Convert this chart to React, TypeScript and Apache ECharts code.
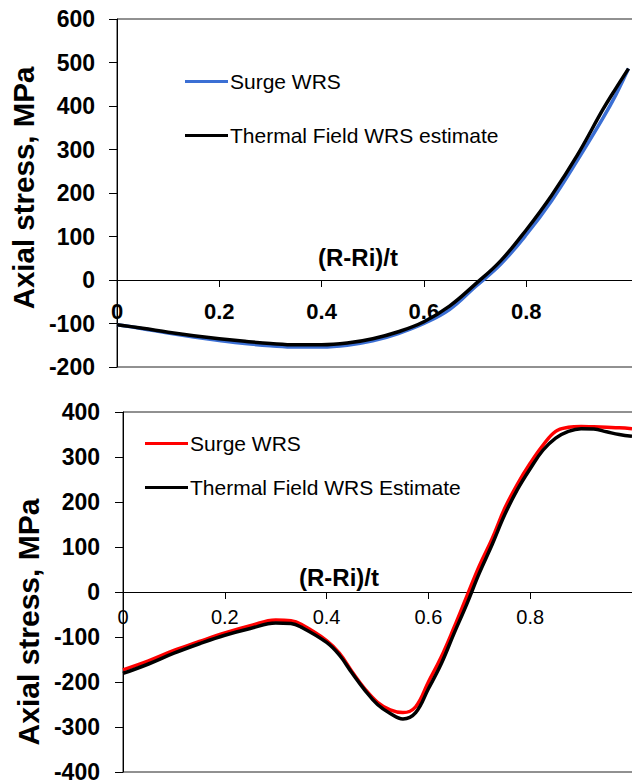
import React, { useEffect, useRef } from "react";
import * as echarts from "echarts";

const FONT = '"Liberation Sans", Arial, Helvetica, sans-serif';

// ---------- Top chart data ----------
const topX = [0, 0.05, 0.1, 0.15, 0.2, 0.25, 0.3, 0.35, 0.4, 0.45, 0.5, 0.55, 0.6, 0.65, 0.7, 0.75, 0.8, 0.85, 0.9, 0.95, 0.975, 1.0];
const topSurge = [-103, -112, -122, -131, -139, -146, -151, -154, -154, -150, -140, -123, -100, -68, -16, 36, 104, 183, 275, 372, 425, 486];
const topThermal = [-103, -111, -120, -128, -135, -141, -146, -149, -149, -145, -135, -119, -96, -60, -10, 44, 115, 195, 287, 392, 440, 486];
const topSeriesNames = ["Surge WRS", "Thermal Field WRS estimate"];

// ---------- Bottom chart data ----------
const botX = [0, 0.05, 0.1, 0.15, 0.2, 0.25, 0.3, 0.33, 0.35, 0.4, 0.425, 0.45, 0.475, 0.5, 0.525, 0.55, 0.575, 0.6, 0.625, 0.65, 0.675, 0.7, 0.725, 0.75, 0.775, 0.8, 0.825, 0.85, 0.875, 0.9, 0.925, 0.95, 0.975, 1.0];
const botSurge = [-173, -153, -130, -110, -91, -75, -62, -64, -72, -108, -136, -177, -215, -245, -262, -268, -255, -200, -145, -80, -11, 58, 118, 186, 240, 286, 326, 357, 366, 368, 367, 366, 365, 363];
const botThermal = [-181, -160, -136, -115, -96, -81, -69, -70, -78, -112, -140, -180, -218, -250, -270, -282, -268, -215, -160, -93, -28, 42, 105, 172, 228, 274, 315, 342, 357, 363, 362, 356, 350, 346];
const botSeriesNames = ["Surge WRS", "Thermal Field WRS Estimate"];

const xTickValues = [0, 0.2, 0.4, 0.6, 0.8];
const yTitle = "Axial stress, MPa";
const xTitle = "(R-Ri)/t";

const zip = (xs: number[], ys: number[]) => xs.map((x, i) => [x, ys[i]]);

function buildOption(cfg: any) {
  const xMax = cfg.gridWidth / cfg.pxPerUnit;
  const zeroOffset = -(cfg.gridHeight * (0 - cfg.yMin)) / (cfg.yMax - cfg.yMin);
  return {
    animation: false,
    backgroundColor: "#fff",
    grid: {
      left: cfg.gridLeft,
      top: cfg.gridTop,
      width: cfg.gridWidth,
      height: cfg.gridHeight,
      show: true,
      borderColor: "#222",
      borderWidth: 1,
      backgroundColor: "transparent",
      containLabel: false,
      outerBoundsMode: "none",
    },
    legend: {
      orient: "vertical",
      left: cfg.legendLeft,
      top: cfg.legendTop,
      padding: 0,
      itemGap: cfg.legendGap,
      itemWidth: 43,
      itemHeight: 3,
      icon: "rect",
      selectedMode: false,
      textStyle: { fontFamily: FONT, fontSize: 21, color: "#000", padding: [0, 0, 0, -3] },
      data: cfg.names,
    },
    xAxis: {
      type: "value",
      position: "bottom",
      offset: zeroOffset,
      min: 0,
      max: xMax,
      interval: 0.2,
      axisLine: { show: true, onZero: false, lineStyle: { color: "#000", width: 1 } },
      axisTick: { show: true, length: 7, inside: false, customValues: xTickValues, lineStyle: { color: "#000" } },
      axisLabel: {
        customValues: xTickValues,
        margin: cfg.xLabelMargin,
        fontFamily: FONT,
        fontSize: cfg.xLabelSize,
        fontWeight: cfg.xLabelWeight,
        color: "#000",
        formatter: (v: number) => (v > 0.95 ? "" : String(Math.round(v * 10) / 10)),
      },
      splitLine: { show: false },
    },
    yAxis: {
      type: "value",
      min: cfg.yMin,
      max: cfg.yMax,
      interval: 100,
      axisLine: { show: true, onZero: false, lineStyle: { color: "#000", width: 1 } },
      axisTick: { show: true, length: 8, inside: false, lineStyle: { color: "#000" } },
      axisLabel: {
        margin: cfg.yLabelMargin,
        fontFamily: FONT,
        fontSize: 23,
        fontWeight: "bold",
        color: "#000",
      },
      splitLine: { show: false },
      name: yTitle,
      nameLocation: "middle",
      nameGap: cfg.yNameGap,
      nameTextStyle: {
        fontFamily: FONT,
        fontSize: cfg.yNameSize,
        fontWeight: "bold",
        color: "#000",
        padding: cfg.yNamePadding,
      },
    },
    graphic: [
      {
        type: "text",
        x: cfg.xTitleX,
        y: cfg.xTitleY,
        style: {
          text: xTitle,
          font: `bold 24px ${FONT}`,
          fill: "#000",
          textAlign: "center",
          textVerticalAlign: "middle",
        },
        z: 10,
      },
    ],
    series: [
      {
        name: cfg.names[0],
        type: "line",
        data: zip(cfg.x, cfg.s1),
        symbol: "none",
        smooth: 0.4,
        lineStyle: { color: cfg.color1, width: 3.5 },
        itemStyle: { color: cfg.color1 },
        z: 2,
      },
      {
        name: cfg.names[1],
        type: "line",
        data: zip(cfg.x, cfg.s2),
        symbol: "none",
        smooth: 0.4,
        lineStyle: { color: "#000", width: 3.5 },
        itemStyle: { color: "#000" },
        z: 3,
      },
    ],
  };
}

export default function App() {
  const topRef = useRef<HTMLDivElement>(null);
  const botRef = useRef<HTMLDivElement>(null);

  useEffect(() => {
    const top = echarts.init(topRef.current!, undefined, { renderer: "svg" });
    const bot = echarts.init(botRef.current!, undefined, { renderer: "svg" });

    top.setOption(
      buildOption({
        gridLeft: 117,
        gridTop: 19,
        gridWidth: 530,
        gridHeight: 348,
        pxPerUnit: 511.5,
        yMin: -200,
        yMax: 600,
        yLabelMargin: 22,
        yNameGap: 66,
        yNameSize: 29.5,
        yNamePadding: [0, 0, 0, 10],
        xLabelMargin: 20,
        xLabelSize: 22,
        xLabelWeight: "bold",
        legendLeft: 185,
        legendTop: 71,
        legendGap: 33,
        names: topSeriesNames,
        x: topX,
        s1: topSurge,
        s2: topThermal,
        color1: "#3b6fd4",
        xTitleX: 358,
        xTitleY: 257,
      })
    );

    bot.setOption(
      buildOption({
        gridLeft: 123,
        gridTop: 22,
        gridWidth: 530,
        gridHeight: 360,
        pxPerUnit: 509,
        yMin: -400,
        yMax: 400,
        yLabelMargin: 23,
        yNameGap: 69,
        yNameSize: 30,
        yNamePadding: [0, 60, 0, 0],
        xLabelMargin: 15,
        xLabelSize: 20,
        xLabelWeight: "normal",
        legendLeft: 145,
        legendTop: 43,
        legendGap: 23,
        names: botSeriesNames,
        x: botX,
        s1: botSurge,
        s2: botThermal,
        color1: "#ff0000",
        xTitleX: 339,
        xTitleY: 187,
      })
    );

    return () => {
      top.dispose();
      bot.dispose();
    };
  }, []);

  return (
    <>
      <div ref={topRef} style={{ position: "absolute", left: 0, top: 0, width: 632, height: 390 }} />
      <div ref={botRef} style={{ position: "absolute", left: 0, top: 390, width: 632, height: 394 }} />
    </>
  );
}
